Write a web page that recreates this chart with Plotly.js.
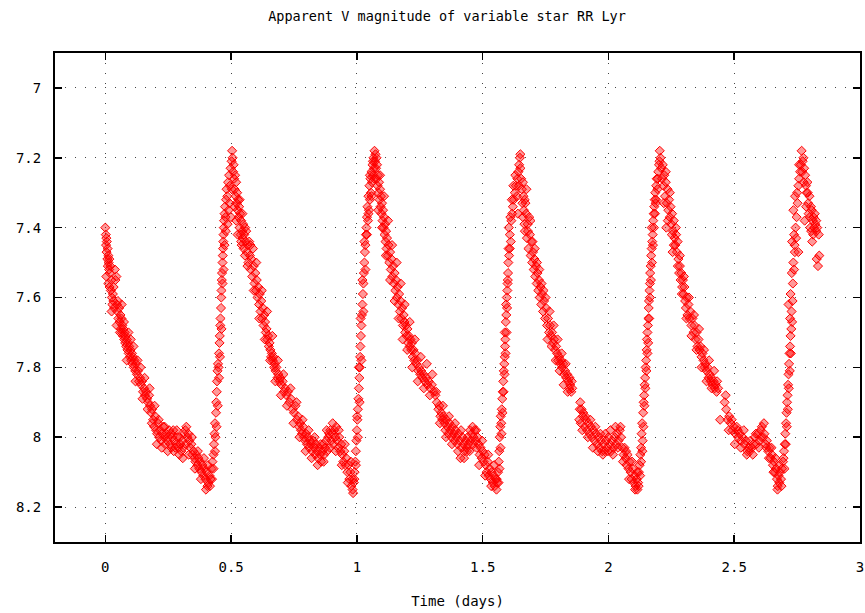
<!DOCTYPE html>
<html>
<head>
<meta charset="utf-8">
<script src="https://cdn.plot.ly/plotly-3.0.1.min.js"></script>
<style>html,body{margin:0;padding:0;background:#fff;}#chart{width:865px;height:613px;}</style>
</head>
<body>
<div id="chart"></div>
<script>
// Cycle A: t 0 - 0.512 (decline, minimum, rise to first maximum)
var cycleATime = [0.000,0.002,0.003,0.004,0.005,0.006,0.008,0.009,0.010,0.012,0.013,0.004,0.015,0.016,0.018,0.020,0.017,0.022,0.024,0.026,0.028,0.030,0.032,0.035,0.038,0.040,0.044,0.046,0.048,0.050,0.052,0.055,0.057,0.060,0.062,0.064,0.066,0.068,0.070,0.072,0.075,0.077,0.079,0.081,0.083,0.086,0.088,0.090,0.093,0.095,0.098,0.100,0.103,0.106,0.108,0.110,0.113,0.116,0.119,0.122,0.126,0.130,0.134,0.138,0.142,0.146,0.150,0.154,0.158,0.162,0.166,0.170,0.174,0.178,0.182,0.186,0.190,0.194,0.198,0.202,0.206,0.210,0.214,0.218,0.222,0.226,0.230,0.234,0.238,0.242,0.246,0.250,0.254,0.258,0.262,0.266,0.270,0.274,0.278,0.282,0.286,0.290,0.294,0.298,0.302,0.306,0.310,0.314,0.318,0.322,0.326,0.330,0.334,0.338,0.342,0.346,0.350,0.354,0.358,0.362,0.366,0.370,0.374,0.378,0.382,0.386,0.390,0.394,0.398,0.402,0.406,0.410,0.414,0.418,0.422,0.426,0.430,
0.432,0.434,0.436,0.438,0.440,0.441,0.443,0.444,0.446,0.448,0.450,0.452,0.454,0.455,0.457,0.458,0.460,0.461,0.462,0.463,0.464,0.466,0.467,0.468,0.469,0.470,0.471,0.472,0.474,0.476,0.478,0.480,0.482,0.485,0.488,0.490,0.492,0.495,0.498,0.500,0.502,0.504,0.506,0.508,0.510,0.512];
var cycleAMag = [7.40,7.42,7.45,7.43,7.47,7.44,7.49,7.46,7.51,7.48,7.50,7.54,7.52,7.49,7.53,7.51,7.57,7.58,7.55,7.60,7.62,7.59,7.61,7.63,7.52,7.55,7.54,7.62,7.64,7.61,7.66,7.63,7.67,7.65,7.69,7.66,7.70,7.68,7.71,7.69,7.72,7.70,7.73,7.71,7.74,7.72,7.75,7.73,7.76,7.74,7.77,7.75,7.78,7.76,7.79,7.77,7.80,7.78,7.81,7.79,7.82,7.81,7.84,7.83,7.85,7.84,7.87,7.86,7.88,7.87,7.89,7.90,7.88,7.91,7.93,7.92,7.95,7.97,7.94,7.98,7.99,7.96,8.00,7.98,8.01,7.99,7.97,8.00,8.02,7.99,8.01,8.00,7.98,8.02,8.03,8.00,7.98,8.01,8.03,8.02,8.00,8.03,8.05,8.02,8.04,8.01,8.03,7.99,7.98,7.97,8.00,7.99,8.01,8.03,8.02,8.05,8.04,8.06,8.07,8.05,8.08,8.06,8.09,8.07,8.10,8.08,8.11,8.09,8.12,8.10,8.14,8.13,8.11,8.12,8.09,8.07,8.05,
8.02,7.99,7.96,8.00,7.93,7.90,7.87,7.84,7.81,7.79,7.80,7.76,7.73,7.71,7.68,7.66,7.63,7.60,7.58,7.55,7.53,7.50,7.48,7.46,7.44,7.42,7.40,7.38,7.36,7.34,7.37,7.32,7.29,7.31,7.27,7.35,7.25,7.28,7.23,7.37,7.21,7.18,7.20,7.24,7.22,7.26];
var scatterATime = [0.012,0.025,0.033,0.045,0.058,0.065,0.074,0.085,0.092,0.101,0.112,0.120,0.128,0.140,0.148,0.156,0.168,0.176,0.185,0.196,0.205,0.212,0.224,0.236,0.248,0.260,0.272,0.284,0.296,0.308,0.320,0.332,0.344,0.356,0.368,0.380,0.392,0.400,0.408,0.416,0.424,0.430,0.436,0.442,0.447,0.452,0.456,0.462,0.466,0.470,0.474,0.479,0.486,0.494,0.503,0.514,0.520,0.526,0.534,0.540];
var scatterAMag = [7.56,7.64,7.57,7.68,7.70,7.62,7.67,7.78,7.70,7.72,7.74,7.84,7.78,7.80,7.89,7.83,7.92,7.86,7.96,7.91,8.02,7.95,8.03,7.97,8.04,7.99,8.04,7.98,8.00,8.06,8.02,8.05,8.00,8.09,8.04,8.12,8.06,8.15,8.08,8.14,8.12,8.09,8.04,7.97,7.91,7.83,7.77,7.69,7.56,7.52,7.45,7.41,7.39,7.33,7.29,7.34,7.38,7.42,7.32,7.44];

// Cycle B: t 0.514 - 1.074
var cycleBTime = [0.514,0.516,0.518,0.520,0.522,0.524,0.526,0.528,0.530,0.532,0.534,0.536,0.538,0.540,0.542,0.544,0.546,0.548,0.550,0.552,0.555,0.558,0.560,0.563,0.566,0.569,0.572,0.575,0.578,0.581,0.584,0.587,0.590,0.593,0.596,0.599,0.602,0.605,0.608,0.611,0.614,0.617,0.620,0.623,0.626,0.629,0.632,0.635,0.638,0.641,0.644,0.647,0.650,0.653,0.656,0.659,0.662,0.665,0.668,0.671,0.674,0.677,0.680,0.684,0.688,0.692,0.696,0.700,0.705,0.710,0.715,0.720,0.726,0.732,0.738,0.744,0.750,0.756,0.762,0.766,0.770,0.774,0.778,0.782,0.786,0.790,0.794,0.798,0.802,0.806,0.810,0.814,0.818,0.822,0.826,0.830,0.834,0.838,0.842,0.846,0.850,0.854,0.858,0.862,0.866,0.870,0.874,0.878,0.882,0.886,0.890,0.894,0.898,0.902,0.906,0.910,0.914,0.918,0.922,0.926,0.930,0.934,0.938,0.942,0.946,0.950,0.954,0.958,0.962,0.966,0.970,0.974,0.978,0.982,0.985,0.988,0.991,0.994,
0.996,0.998,1.000,1.002,1.004,1.006,1.008,1.010,1.012,1.013,1.014,1.016,1.018,1.020,1.022,1.024,1.026,1.028,1.030,1.032,1.034,1.036,1.038,1.040,1.042,1.044,1.046,1.048,1.050,1.052,1.054,1.056,1.058,1.060,1.062,1.064,1.066,1.068,1.070,1.072,1.074];
var cycleBMag = [7.29,7.25,7.31,7.27,7.33,7.30,7.35,7.32,7.37,7.34,7.40,7.36,7.42,7.38,7.45,7.41,7.43,7.39,7.46,7.42,7.48,7.44,7.41,7.47,7.45,7.50,7.44,7.48,7.52,7.49,7.54,7.46,7.51,7.56,7.53,7.58,7.55,7.60,7.57,7.62,7.59,7.64,7.61,7.66,7.63,7.68,7.65,7.67,7.70,7.69,7.72,7.71,7.74,7.73,7.75,7.77,7.76,7.78,7.77,7.80,7.79,7.81,7.80,7.83,7.82,7.84,7.83,7.85,7.84,7.87,7.86,7.88,7.87,7.90,7.89,7.92,7.93,7.91,7.95,7.94,7.97,7.96,7.98,7.99,7.97,8.00,8.01,7.99,8.02,8.00,8.03,8.01,8.02,8.04,8.01,8.03,8.05,8.02,8.04,8.06,8.03,8.05,8.07,8.04,8.02,8.05,8.03,8.01,8.04,8.00,7.99,7.98,8.01,7.99,8.02,7.98,8.00,7.97,8.01,8.03,8.00,8.04,8.02,8.05,8.07,8.04,8.08,8.06,8.10,8.08,8.12,8.10,8.14,8.12,8.16,8.13,8.10,8.07,
8.04,8.01,7.98,7.95,7.92,7.89,7.86,7.83,7.80,7.77,7.74,7.71,7.68,7.65,7.62,7.59,7.56,7.53,7.50,7.47,7.45,7.42,7.40,7.37,7.34,7.38,7.31,7.35,7.28,7.32,7.26,7.30,7.24,7.27,7.22,7.25,7.20,7.23,7.18,7.21,7.19];
var scatterBTime = [0.545,0.556,0.565,0.577,0.590,0.600,0.612,0.622,0.634,0.643,0.655,0.664,0.676,0.686,0.698,0.708,0.722,0.736,0.748,0.760,0.772,0.784,0.796,0.808,0.820,0.832,0.844,0.856,0.868,0.880,0.892,0.904,0.916,0.928,0.940,0.952,0.964,0.976,0.983,0.990,0.996,1.001,1.004,1.008,1.011,1.015,1.018,1.022,1.026,1.030,1.034,1.040,1.046,1.052,1.058,1.064,1.070,1.078];
var scatterBMag = [7.36,7.40,7.51,7.45,7.58,7.50,7.66,7.58,7.72,7.64,7.78,7.71,7.84,7.78,7.88,7.82,7.91,7.86,7.96,7.90,8.00,7.95,8.04,7.98,8.06,8.00,8.08,8.02,8.07,7.98,8.03,7.96,8.04,7.98,8.08,8.02,8.13,8.07,8.15,8.12,8.08,7.94,8.00,7.80,7.90,7.66,7.78,7.55,7.64,7.44,7.52,7.42,7.36,7.25,7.31,7.21,7.26,7.20];

// Cycle C: t 1.076 - 1.653
var cycleCTime = [1.076,1.078,1.080,1.082,1.084,1.086,1.088,1.090,1.092,1.094,1.096,1.098,1.100,1.102,1.104,1.106,1.108,1.110,1.112,1.114,1.116,1.118,1.120,1.123,1.126,1.129,1.132,1.135,1.138,1.141,1.144,1.147,1.150,1.153,1.156,1.159,1.162,1.165,1.168,1.171,1.174,1.177,1.180,1.183,1.186,1.189,1.192,1.195,1.198,1.201,1.204,1.207,1.210,1.213,1.216,1.219,1.222,1.225,1.228,1.232,1.236,1.240,1.244,1.248,1.252,1.256,1.260,1.265,1.270,1.275,1.280,1.286,1.292,1.298,1.306,1.312,1.318,1.324,1.328,1.332,1.336,1.340,1.344,1.348,1.352,1.356,1.360,1.364,1.368,1.372,1.376,1.380,1.384,1.388,1.392,1.396,1.400,1.404,1.408,1.412,1.416,1.420,1.424,1.428,1.432,1.436,1.440,1.444,1.448,1.452,1.456,1.460,1.464,1.468,1.472,1.476,1.480,1.484,1.488,1.492,1.496,1.500,1.504,1.508,1.512,1.516,1.520,1.524,1.528,1.532,1.536,1.540,1.544,1.548,1.552,1.555,1.558,1.561,1.564,1.566,
1.568,1.570,1.572,1.574,1.576,1.578,1.580,1.582,1.584,1.586,1.588,1.589,1.590,1.588,1.592,1.594,1.593,1.596,1.598,1.600,1.601,1.602,1.605,1.608,1.612,1.608,1.604,1.614,1.617,1.620,1.624,1.628,1.632,1.636,1.640,1.638,1.642,1.645,1.648,1.650,1.653];
var cycleCMag = [7.23,7.26,7.22,7.28,7.25,7.30,7.27,7.32,7.29,7.34,7.31,7.36,7.33,7.38,7.35,7.40,7.37,7.42,7.39,7.44,7.41,7.46,7.43,7.48,7.45,7.50,7.47,7.52,7.49,7.54,7.51,7.56,7.53,7.58,7.55,7.60,7.57,7.62,7.59,7.64,7.61,7.66,7.63,7.68,7.65,7.67,7.70,7.68,7.71,7.69,7.73,7.71,7.74,7.72,7.75,7.73,7.77,7.75,7.78,7.76,7.79,7.78,7.81,7.80,7.82,7.81,7.83,7.82,7.84,7.83,7.85,7.84,7.86,7.85,7.87,7.88,7.90,7.92,7.91,7.94,7.93,7.95,7.94,7.96,7.98,7.95,7.97,7.99,7.96,7.98,8.00,7.97,7.99,8.01,7.98,8.00,8.02,7.99,8.01,8.06,8.03,8.00,8.02,8.04,8.01,8.03,8.00,8.02,8.04,8.01,7.99,7.97,8.00,7.98,8.01,8.03,8.00,8.02,8.05,8.03,8.06,8.04,8.07,8.05,8.08,8.10,8.07,8.11,8.09,8.12,8.10,8.13,8.11,8.14,8.12,8.15,8.13,8.10,8.07,8.04,
8.00,7.97,7.94,7.96,7.92,7.89,7.87,7.84,7.81,7.79,7.77,7.74,7.72,7.70,7.67,7.65,7.62,7.60,7.58,7.55,7.53,7.50,7.48,7.46,7.44,7.42,7.40,7.38,7.36,7.34,7.32,7.30,7.28,7.31,7.36,7.26,7.24,7.22,7.20,7.23,7.26];
var scatterCTime = [1.085,1.092,1.100,1.108,1.115,1.124,1.132,1.140,1.150,1.158,1.166,1.174,1.182,1.190,1.200,1.210,1.220,1.230,1.242,1.254,1.266,1.278,1.290,1.300,1.315,1.330,1.342,1.354,1.366,1.378,1.390,1.402,1.414,1.426,1.438,1.450,1.462,1.474,1.486,1.498,1.510,1.522,1.534,1.546,1.556,1.563,1.567,1.571,1.575,1.579,1.583,1.587,1.591,1.595,1.597,1.599,1.603,1.610,1.616,1.622,1.630,1.644,1.650];
var scatterCMag = [7.35,7.25,7.40,7.31,7.48,7.38,7.55,7.45,7.61,7.50,7.66,7.56,7.72,7.62,7.75,7.67,7.80,7.72,7.84,7.77,7.86,7.79,7.88,7.82,7.87,7.96,7.91,8.00,7.94,8.02,7.96,8.04,7.98,8.06,8.04,7.98,8.02,7.98,8.08,8.01,8.11,8.05,8.14,8.08,8.12,8.13,8.09,8.03,7.99,7.93,7.87,7.82,7.76,7.70,7.63,7.56,7.46,7.37,7.32,7.28,7.25,7.28,7.19];

// Cycle D: t 1.656 - 2.210
var cycleDTime = [1.656,1.658,1.660,1.662,1.664,1.666,1.668,1.670,1.673,1.676,1.679,1.682,1.685,1.688,1.691,1.694,1.697,1.700,1.703,1.706,1.709,1.712,1.715,1.718,1.721,1.724,1.727,1.730,1.733,1.736,1.740,1.744,1.748,1.752,1.756,1.760,1.764,1.768,1.772,1.776,1.780,1.784,1.788,1.792,1.796,1.800,1.804,1.808,1.812,1.816,1.820,1.824,1.828,1.832,1.836,1.840,1.844,1.848,1.852,1.856,1.888,1.893,1.898,1.884,1.890,1.900,1.905,1.910,1.915,1.920,1.925,1.930,1.935,1.940,1.945,1.950,1.955,1.960,1.965,1.970,1.975,1.980,1.985,1.990,1.995,2.000,2.005,2.010,2.015,2.020,2.025,2.030,2.035,2.040,2.045,2.050,2.055,2.060,2.064,2.068,2.072,2.076,2.080,2.084,2.088,2.092,2.096,2.100,2.104,2.108,2.112,2.115,2.118,2.121,2.124,2.127,2.130,
2.132,2.134,2.136,2.138,2.140,2.142,2.144,2.146,2.148,2.150,2.152,2.153,2.155,2.157,2.159,2.160,2.161,2.163,2.165,2.166,2.168,2.170,2.172,2.174,2.176,2.172,2.178,2.180,2.182,2.184,2.186,2.188,2.190,2.192,2.195,2.198,2.201,2.204,2.207,2.210];
var cycleDMag = [7.29,7.33,7.37,7.31,7.35,7.39,7.41,7.33,7.36,7.43,7.39,7.46,7.37,7.42,7.48,7.44,7.50,7.47,7.52,7.49,7.54,7.51,7.56,7.53,7.58,7.55,7.60,7.57,7.62,7.59,7.64,7.61,7.66,7.63,7.68,7.66,7.70,7.68,7.71,7.70,7.73,7.72,7.75,7.74,7.76,7.78,7.77,7.79,7.78,7.80,7.79,7.82,7.81,7.83,7.82,7.84,7.86,7.85,7.87,7.86,7.90,7.92,7.94,7.95,7.96,7.93,7.97,7.95,7.98,7.96,7.99,7.97,8.00,7.98,8.01,7.99,8.02,8.00,8.03,8.01,8.04,8.02,8.04,8.01,8.03,8.00,8.02,8.04,8.01,8.03,8.00,8.02,7.99,8.01,7.98,8.00,8.03,8.05,8.03,8.06,8.08,8.05,8.09,8.07,8.10,8.12,8.09,8.13,8.11,8.14,8.12,8.15,8.13,8.10,8.08,8.05,8.03,
7.99,7.96,8.01,7.93,7.90,7.88,7.85,7.83,7.80,7.78,7.75,7.72,7.70,7.68,7.66,7.63,7.61,7.58,7.56,7.53,7.51,7.48,7.46,7.44,7.42,7.40,7.38,7.36,7.34,7.32,7.30,7.33,7.28,7.26,7.29,7.24,7.22,7.18,7.20,7.23];
var scatterDTime = [1.660,1.667,1.674,1.680,1.690,1.698,1.707,1.716,1.725,1.734,1.742,1.750,1.758,1.766,1.774,1.782,1.790,1.798,1.806,1.814,1.822,1.830,1.838,1.846,1.854,1.886,1.896,1.908,1.918,1.928,1.938,1.948,1.958,1.968,1.978,1.988,1.998,2.008,2.018,2.028,2.038,2.048,2.058,2.070,2.082,2.094,2.106,2.114,2.120,2.126,2.130,2.135,2.139,2.143,2.147,2.151,2.155,2.158,2.162,2.165,2.169,2.173,2.177,2.181,2.185,2.190,2.196,2.203];
var scatterDMag = [7.27,7.32,7.29,7.41,7.38,7.44,7.46,7.50,7.52,7.56,7.58,7.60,7.72,7.64,7.74,7.68,7.78,7.72,7.81,7.76,7.85,7.79,7.87,7.83,7.84,7.92,7.98,7.94,8.00,7.95,8.03,7.97,8.04,7.99,8.05,7.99,8.04,7.98,8.05,7.97,8.03,7.97,8.07,8.04,8.12,8.07,8.15,8.10,8.14,8.11,8.07,8.04,7.97,7.91,7.86,7.81,7.76,7.73,7.66,7.60,7.55,7.50,7.45,7.40,7.36,7.32,7.26,7.21];

// Cycle E: t 2.213 - 2.838
var cycleETime = [2.213,2.216,2.219,2.222,2.225,2.228,2.230,2.232,2.235,2.238,2.241,2.244,2.247,2.250,2.253,2.255,2.257,2.260,2.263,2.266,2.269,2.272,2.275,2.278,2.281,2.284,2.287,2.290,2.293,2.296,2.299,2.302,2.305,2.308,2.311,2.314,2.318,2.322,2.326,2.330,2.334,2.338,2.342,2.346,2.350,2.354,2.358,2.362,2.366,2.370,2.374,2.378,2.382,2.386,2.390,2.394,2.398,2.402,2.406,2.410,2.414,2.418,2.422,2.426,2.430,2.436,2.462,2.468,2.444,2.474,2.480,2.486,2.492,2.498,2.504,2.510,2.516,2.522,2.528,2.534,2.540,2.546,2.552,2.558,2.564,2.570,2.576,2.582,2.588,2.594,2.600,2.605,2.610,2.615,2.620,2.625,2.630,2.635,2.640,2.645,2.650,2.654,2.658,2.662,2.666,2.670,2.673,2.676,2.679,2.682,2.686,2.690,2.694,2.698,2.701,
2.703,2.706,2.708,2.710,2.712,2.714,2.716,2.718,2.720,2.722,2.724,2.727,2.722,2.728,2.716,2.724,2.733,2.729,2.735,2.741,2.730,2.755,2.738,2.744,2.735,2.748,2.742,2.752,2.755,2.758,2.762,2.765,2.768,2.772,2.775,2.778,2.782,2.780,2.785,2.788,2.791,2.794,2.796,2.799,2.802,2.805,2.808,2.810,2.812,2.815,2.818,2.822,2.826,2.828,2.830,2.833,2.836,2.838];
var cycleEMag = [7.26,7.22,7.28,7.25,7.31,7.27,7.40,7.33,7.29,7.35,7.32,7.37,7.34,7.39,7.36,7.47,7.41,7.38,7.43,7.45,7.42,7.47,7.44,7.49,7.53,7.51,7.55,7.53,7.57,7.55,7.59,7.57,7.61,7.63,7.60,7.65,7.62,7.66,7.64,7.68,7.66,7.70,7.68,7.72,7.70,7.74,7.72,7.75,7.74,7.77,7.76,7.78,7.80,7.79,7.81,7.80,7.83,7.82,7.84,7.83,7.85,7.84,7.86,7.85,7.87,7.86,7.90,7.92,7.95,7.95,7.94,7.96,7.98,7.97,7.99,7.97,8.00,7.99,8.01,8.00,8.02,8.01,8.04,8.03,8.01,8.03,8.02,8.00,8.02,7.99,8.01,7.98,7.97,8.00,7.99,8.02,8.01,8.04,8.03,8.06,8.05,8.08,8.07,8.10,8.09,8.12,8.14,8.11,8.13,8.10,8.12,8.09,8.07,8.04,8.02,
7.99,7.96,7.93,7.90,7.88,7.85,7.82,7.79,7.76,7.74,7.71,7.69,7.66,7.64,7.62,7.59,7.56,7.53,7.50,7.47,7.44,7.47,7.42,7.40,7.35,7.37,7.31,7.33,7.28,7.26,7.24,7.22,7.18,7.21,7.20,7.23,7.25,7.38,7.28,7.30,7.27,7.33,7.36,7.31,7.40,7.34,7.35,7.44,7.38,7.37,7.40,7.39,7.41,7.49,7.40,7.51,7.42,7.48];
var scatterETime = [2.220,2.228,2.236,2.244,2.252,2.260,2.268,2.276,2.284,2.292,2.300,2.310,2.320,2.330,2.340,2.350,2.360,2.370,2.380,2.390,2.400,2.410,2.420,2.432,2.466,2.478,2.490,2.502,2.514,2.526,2.538,2.550,2.562,2.574,2.586,2.598,2.608,2.618,2.628,2.638,2.648,2.656,2.664,2.672,2.680,2.688,2.696,2.700,2.705,2.709,2.713,2.717,2.721,2.725,2.730,2.732,2.738,2.740,2.746,2.750,2.758,2.770,2.776,2.786,2.792,2.800,2.806,2.814,2.820,2.826];
var scatterEMag = [7.33,7.24,7.38,7.30,7.42,7.45,7.40,7.51,7.48,7.59,7.54,7.66,7.60,7.71,7.65,7.75,7.69,7.80,7.75,7.84,7.78,7.86,7.81,7.84,7.88,7.98,7.95,8.02,7.98,8.03,7.98,8.05,8.04,8.05,7.99,8.03,8.00,7.96,8.03,8.06,8.03,8.10,8.06,8.15,8.08,8.14,8.06,8.09,8.02,7.97,7.92,7.86,7.81,7.76,7.67,7.61,7.52,7.45,7.43,7.30,7.22,7.24,7.27,7.34,7.30,7.37,7.41,7.42,7.36,7.38];

var xTickVals = [0, 0.5, 1, 1.5, 2, 2.5, 3];
var yTickVals = [7, 7.2, 7.4, 7.6, 7.8, 8, 8.2];

var timeAll = [].concat(cycleATime, scatterATime, cycleBTime, scatterBTime, cycleCTime, scatterCTime, cycleDTime, scatterDTime, cycleETime, scatterETime);
var magAll = [].concat(cycleAMag, scatterAMag, cycleBMag, scatterBMag, cycleCMag, scatterCMag, cycleDMag, scatterDMag, cycleEMag, scatterEMag);

var FONT = 'DejaVu Sans Mono, monospace';

var trace = {
  x: timeAll, y: magAll, type: 'scatter', mode: 'markers',
  marker: {symbol: 'diamond', size: 7, color: 'rgba(255,0,0,0.4)', line: {color: '#ff0000', width: 1}},
  hoverinfo: 'skip', showlegend: false
};

var axisCommon = {
  showline: true, linecolor: '#000', linewidth: 2, mirror: 'ticks',
  ticks: 'inside', ticklen: 7, tickwidth: 1.5, tickcolor: '#000',
  showgrid: true, gridcolor: '#444', gridwidth: 1, griddash: '1px,9px',
  zeroline: false, tickfont: {family: FONT, size: 14, color: '#000'}
};

var layout = {
  width: 865, height: 613,
  margin: {l: 55, r: 5, t: 53, b: 71},
  paper_bgcolor: '#fff', plot_bgcolor: '#fff',
  font: {family: FONT, color: '#000'},
  title: {text: 'Apparent V magnitude of variable star RR Lyr', font: {family: FONT, size: 13.5, color: '#000'},
          x: 0.487, xref: 'paper', xanchor: 'center', y: 0.974, yref: 'container', yanchor: 'middle'},
  xaxis: Object.assign({}, axisCommon, {
    range: [-0.2, 3], tickvals: xTickVals, ticktext: xTickVals.map(String),
    ticklabelstandoff: 11,
    title: {text: 'Time (days)', font: {family: FONT, size: 14, color: '#000'}, standoff: 22}
  }),
  yaxis: Object.assign({}, axisCommon, {
    range: [8.3, 6.9], tickvals: yTickVals, ticktext: yTickVals.map(String),
    ticklabelstandoff: 9
  })
};

Plotly.newPlot('chart', [trace], layout, {displayModeBar: false, staticPlot: true});
</script>
</body>
</html>
